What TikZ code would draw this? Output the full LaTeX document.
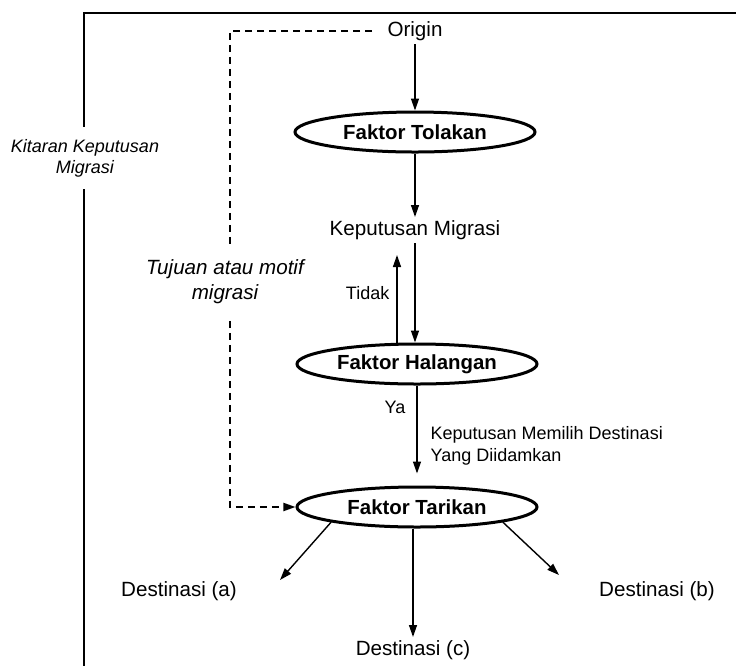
\documentclass[tikz,border=0pt]{standalone}
\usepackage{fontspec}
\setmainfont{Liberation Sans}
\usetikzlibrary{arrows.meta,shapes.geometric}

\begin{document}
\begin{tikzpicture}[x=0.5pt,y=-0.5pt,
  faktor/.style={ellipse,draw,line width=1.5pt,inner sep=0pt,
    minimum width=120pt,minimum height=20pt,
    font=\fontsize{10.2}{12}\selectfont\bfseries},
  txt/.style={inner sep=1.5pt,font=\fontsize{10.3}{12}\selectfont},
  note/.style={inner sep=1.5pt,font=\fontsize{9}{11}\selectfont},
  arr/.style={-{Triangle[length=6pt,width=4pt]},line width=0.7pt},
  motif/.style={dash pattern=on 3.5pt off 2.5pt,line width=0.9pt}]
  \useasboundingbox (0,0) rectangle (736,666);
  % Frame
  \draw[line width=0.75pt] (736,13) -| (84,666);
  \node[fill=white,inner xsep=1pt,inner ysep=6pt,align=center,
    font=\fontsize{9}{10.5}\selectfont\itshape] (kitaran) at (85,158)
    {Kitaran Keputusan\\Migrasi};
  % Stages
  \node[txt] (origin) at (415,31) {Origin};
  \node[faktor] (tolakan) at (415,132) {Faktor Tolakan};
  \node[txt] (keputusan) at (415,230) {Keputusan Migrasi};
  \node[faktor] (halangan) at (417,364) {Faktor Halangan};
  \node[faktor] (tarikan) at (417,507) {Faktor Tarikan};
  % Destinations
  \node[txt] (desta) at (179,591) {Destinasi (a)};
  \node[txt] (destb) at (657,591) {Destinasi (b)};
  \node[txt] (destc) at (413,650) {Destinasi (c)};
  \coordinate (tipa) at (280,580);
  \coordinate (tipb) at (559,575);
  \coordinate (upx) at (397,0);
  \coordinate (dashx) at (230,0);
  % Main flow
  \draw[arr] (origin) -- (tolakan);
  \draw[arr] (tolakan) -- (keputusan);
  \draw[arr] (keputusan.south) -- (keputusan.south |- halangan.north);
  \draw[arr,shorten >=6pt] (halangan.north -| upx) -- (keputusan.south -| upx)
    node[midway,left=2pt,note]{Tidak};
  \draw[arr,shorten >=6pt] (halangan) -- (tarikan)
    node[pos=0.22,left=4pt,note]{Ya}
    node[pos=0.6,right=5pt,note,align=left]{Keputusan Memilih Destinasi\\Yang Diidamkan};
  \draw[arr] (tarikan.south west) -- (tipa);
  \draw[arr] (tarikan.south east) -- (tipb);
  \draw[arr] (tarikan.south -| destc) -- (destc);
  % Motive loop
  \draw[motif,-{Triangle[length=6pt,width=4pt]},shorten <=6pt] (origin.west)
    -- (origin.west -| dashx) -- (tarikan.west -| dashx) -- (tarikan.west);
  \node[fill=white,inner xsep=1pt,inner ysep=6pt,align=center,
    font=\fontsize{10.3}{12.5}\selectfont\itshape] (tujuan) at (225,282)
    {Tujuan atau motif\\migrasi};
\end{tikzpicture}
\end{document}
